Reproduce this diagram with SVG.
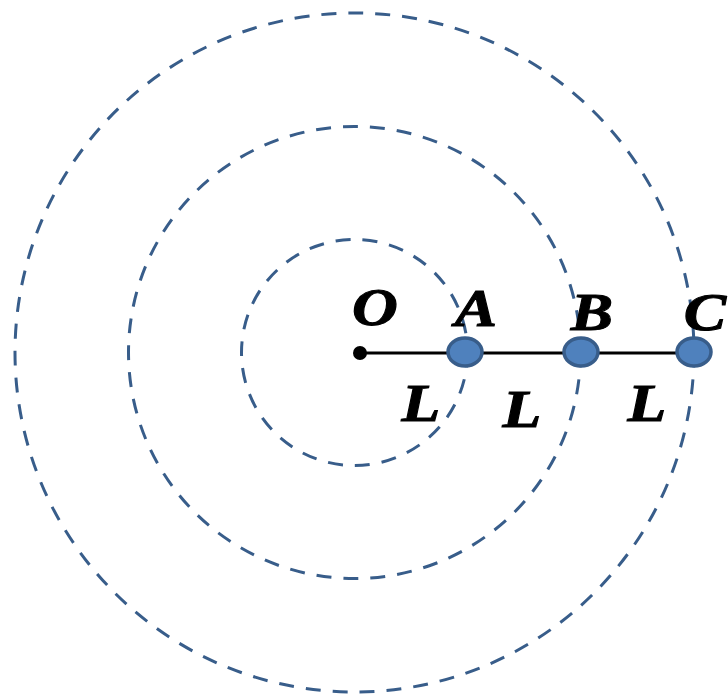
<svg xmlns="http://www.w3.org/2000/svg" width="728" height="698" viewBox="0 0 728 698">
<style>
.orbit{fill:none;stroke:#385d8a;stroke-width:3;stroke-dasharray:15 12}
.ball{fill:#4f81bd;stroke:#385d8a;stroke-width:3.5}
.lbl{font-family:"Liberation Serif",serif;font-weight:bold;font-style:italic;font-size:52px;fill:#000;stroke:#000;stroke-width:1;text-anchor:middle}
</style>
<rect width="728" height="698" fill="#fff"/>
<g id="orbits">
<circle class="orbit" cx="354.5" cy="352.5" r="113"/>
<circle class="orbit" cx="354.5" cy="352.5" r="226"/>
<circle class="orbit" cx="354.5" cy="352.5" r="339.5"/>
</g>
<g id="connectors">
<line x1="360" y1="353" x2="695" y2="353" stroke="#000" stroke-width="3"/>
</g>
<g id="O"><circle cx="360" cy="353" r="7" fill="#000"/><text class="lbl" transform="translate(375,325) scale(1.22,1)">O</text></g>
<g id="A"><ellipse class="ball" cx="465" cy="352" rx="17" ry="14"/><text class="lbl" transform="translate(476,326) scale(1.22,1)">A</text></g>
<g id="B"><ellipse class="ball" cx="581" cy="352" rx="17" ry="14"/><text class="lbl" transform="translate(592,330) scale(1.22,1)">B</text></g>
<g id="C"><ellipse class="ball" cx="694" cy="352" rx="17" ry="14"/><text class="lbl" transform="translate(705,330) scale(1.22,1)">C</text></g>
<g id="L1"><text class="lbl" transform="translate(421,421) scale(1.22,1)">L</text></g>
<g id="L2"><text class="lbl" transform="translate(522,427) scale(1.22,1)">L</text></g>
<g id="L3"><text class="lbl" transform="translate(647,421) scale(1.22,1)">L</text></g>
</svg>
